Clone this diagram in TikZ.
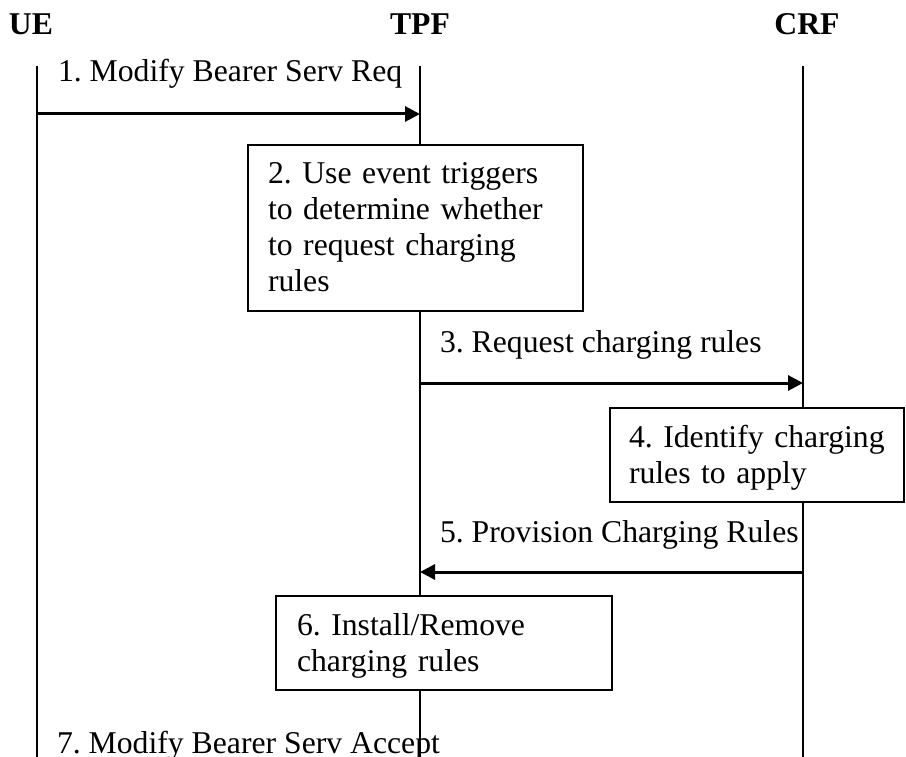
\documentclass[tikz,border=0pt]{standalone}
\usepackage{fontspec}
\setmainfont{Liberation Serif}
\usetikzlibrary{arrows.meta}
\frenchspacing
\begin{document}
\begin{tikzpicture}[x=1pt,y=-1pt,
  every node/.style={inner sep=0pt, outer sep=0pt, font=\fontsize{31.7}{36}\selectfont\frenchspacing},
  head/.style={font=\fontsize{31.7}{36}\selectfont\bfseries, anchor=base},
  lifeline/.style={line width=2pt},
  msg/.style={line width=3pt, -{Triangle[length=15pt,width=15pt]}},
  procbox/.style={draw, fill=white, line width=2pt, anchor=north west},
  boxtext/.style={anchor=base west, align=left, text width=#1},
  msgtext/.style={anchor=base west}]
\useasboundingbox (0,0) rectangle (906,757);
% headers
\node[head, anchor=base west] (hUE) at (9,35) {UE};
\node[head] (hTPF) at (420,35) {TPF};
\node[head] (hCRF) at (807,35) {CRF};
% lifeline ends
\coordinate (ueTop) at (37,66);  \coordinate (ueBot) at (37,757);
\coordinate (tpfTop) at (420,66); \coordinate (tpfBot) at (420,757);
\coordinate (crfTop) at (803,66); \coordinate (crfBot) at (803,757);
\draw[lifeline] (ueTop) -- (ueBot);
\draw[lifeline] (tpfTop) -- (tpfBot);
\draw[lifeline] (crfTop) -- (crfBot);
% message 1
\node[msgtext] (t1) at (58,82) {1. Modify Bearer Serv Req};
\coordinate (m1a) at (37,114); \coordinate (m1b) at (420,114);
\draw[msg] (m1a) -- (m1b);
% box 2
\node[procbox, minimum width=335pt, minimum height=166pt] (b2) at (248,145) {};
\node[boxtext=320pt] (b2t) at (268,184) {2. Use event triggers\\to determine whether\\to request charging\\rules};
% message 3
\node[msgtext] (t3) at (440,352) {3. Request charging rules};
\coordinate (m3a) at (420,383); \coordinate (m3b) at (803,383);
\draw[msg] (m3a) -- (m3b);
% box 4
\node[procbox, minimum width=294pt, minimum height=94pt] (b4) at (610,408) {};
\node[boxtext=280pt] (b4t) at (629,447) {4. Identify charging\\rules to apply};
% message 5
\node[msgtext] (t5) at (440,542) {5. Provision Charging Rules};
\coordinate (m5a) at (803,572); \coordinate (m5b) at (420,572);
\draw[msg] (m5a) -- (m5b);
% box 6
\node[procbox, minimum width=336pt, minimum height=94pt] (b6) at (276,596) {};
\node[boxtext=320pt] (b6t) at (297,635) {6. Install/Remove\\charging rules};
% message 7
\node[msgtext] (t7) at (57,753) {7. Modify Bearer Serv Accept};
\end{tikzpicture}
\end{document}
